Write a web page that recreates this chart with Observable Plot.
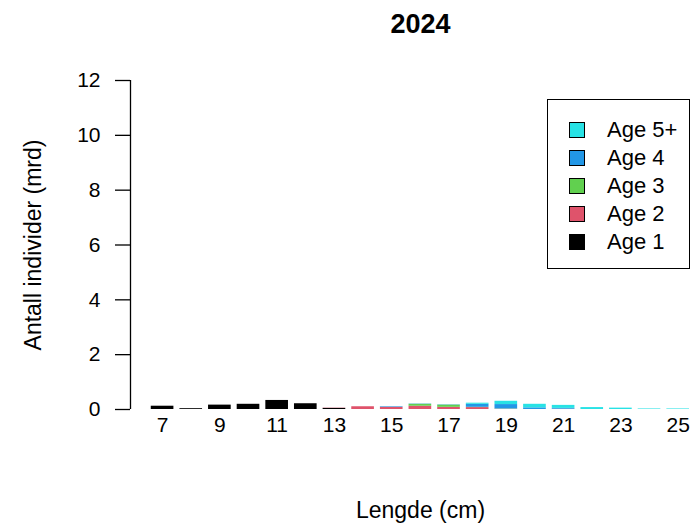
<!DOCTYPE html>
<html>
<head>
<meta charset="utf-8">
<script src="https://cdn.jsdelivr.net/npm/d3@7"></script>
<script src="https://cdn.jsdelivr.net/npm/@observablehq/plot@0.6"></script>
<style>
  html, body { margin: 0; padding: 0; background: #fff; }
  #wrap { position: relative; width: 695px; height: 523px; font-family: "Liberation Sans", Arial, sans-serif; }
  #legend { position: absolute; left: 547px; top: 99px; width: 141px; height: 168px; border: 1.4px solid #000; background: #fff; }
  .item { position: absolute; left: 21px; height: 22px; display: flex; align-items: center; font-size: 22px; color: #000; }
  .sw { width: 16px; height: 16px; border: 1.2px solid #000; box-sizing: border-box; margin-right: 22px; }
  #ylab { position: absolute; left: 33px; top: 245px; transform: translate(-50%, -50%) rotate(-90deg); white-space: nowrap; font-size: 23px; color: #000; line-height: 1; }
</style>
</head>
<body>
<div id="wrap"></div>
<script>
const title = "2024";
const xLabel = "Lengde (cm)";
const yLabel = "Antall individer (mrd)";
const lengths = [7, 8, 9, 10, 11, 12, 13, 14, 15, 16, 17, 18, 19, 20, 21, 22, 23, 24, 25];
const ages = ["Age 1", "Age 2", "Age 3", "Age 4", "Age 5+"];
const colors = ["#000000", "#DF536B", "#61D04F", "#2297E6", "#28E2E5"];
const age1 = [0.12, 0.03, 0.16, 0.19, 0.33, 0.21, 0.04, 0, 0, 0, 0, 0, 0, 0, 0, 0, 0, 0, 0];
const age2 = [0, 0, 0, 0, 0, 0, 0.01, 0.10, 0.08, 0.12, 0.08, 0.07, 0.01, 0, 0.01, 0, 0, 0, 0];
const age3 = [0, 0, 0, 0, 0, 0, 0, 0, 0, 0.07, 0.08, 0.01, 0.01, 0, 0, 0, 0, 0, 0];
const age4 = [0, 0, 0, 0, 0, 0, 0, 0, 0.02, 0.01, 0.01, 0.11, 0.16, 0.06, 0.03, 0, 0, 0, 0];
const age5 = [0, 0, 0, 0, 0, 0, 0, 0, 0, 0, 0, 0.04, 0.12, 0.13, 0.11, 0.07, 0.05, 0.02, 0.02];
const xTicks = [7, 9, 11, 13, 15, 17, 19, 21, 23, 25];
const yTicks = [0, 2, 4, 6, 8, 10, 12];

const series = [age1, age2, age3, age4, age5];
const data = lengths.flatMap((len, i) =>
  ages.map((age, k) => ({len, age, value: series[k][i]}))
).filter(d => d.value > 0);

const xDomain = [5.88, 25.5];

const chart = Plot.plot({
  width: 695,
  height: 523,
  marginLeft: 130,
  marginRight: 3,
  marginTop: 80,
  marginBottom: 114,
  style: {fontFamily: "'Liberation Sans', Arial, sans-serif", background: "#fff", color: "#000"},
  x: {type: "linear", domain: xDomain},
  y: {domain: [0, 12]},
  color: {domain: ages, range: colors},
  marks: [
    Plot.rectY(data, {
      x1: d => d.len - 0.5,
      x2: d => d.len + 0.5,
      y: "value",
      fill: "age",
      insetLeft: 3,
      insetRight: 3
    }),
    Plot.ruleX([xDomain[0]], {y1: 0, y2: 12, stroke: "#000", strokeWidth: 1.3}),
    Plot.axisY({ticks: yTicks, tickSize: 15, tickPadding: 15, fontSize: 21, label: null, strokeWidth: 1.3}),
    Plot.axisX({ticks: xTicks, tickSize: 0, tickPadding: 8, fontSize: 21, label: null, tickFormat: d => String(d)}),
    Plot.text([title], {frameAnchor: "top", dy: -56, dx: 9, fontSize: 27, fontWeight: "bold", lineAnchor: "middle", text: d => d}),
    Plot.text([xLabel], {frameAnchor: "bottom", dy: 101, dx: 9, fontSize: 23, lineAnchor: "middle", text: d => d})
  ]
});

const wrap = document.getElementById("wrap");
wrap.appendChild(chart);

const yl = document.createElement("div");
yl.id = "ylab";
yl.textContent = yLabel;
wrap.appendChild(yl);

const legend = document.createElement("div");
legend.id = "legend";
const legendOrder = ages.map((a, i) => ({a, c: colors[i]})).reverse();
legendOrder.forEach((d, i) => {
  const item = document.createElement("div");
  item.className = "item";
  item.style.top = (19 + i * 28) + "px";
  const sw = document.createElement("div");
  sw.className = "sw";
  sw.style.background = d.c;
  const t = document.createElement("span");
  t.textContent = d.a;
  item.appendChild(sw);
  item.appendChild(t);
  legend.appendChild(item);
});
wrap.appendChild(legend);
</script>
</body>
</html>
